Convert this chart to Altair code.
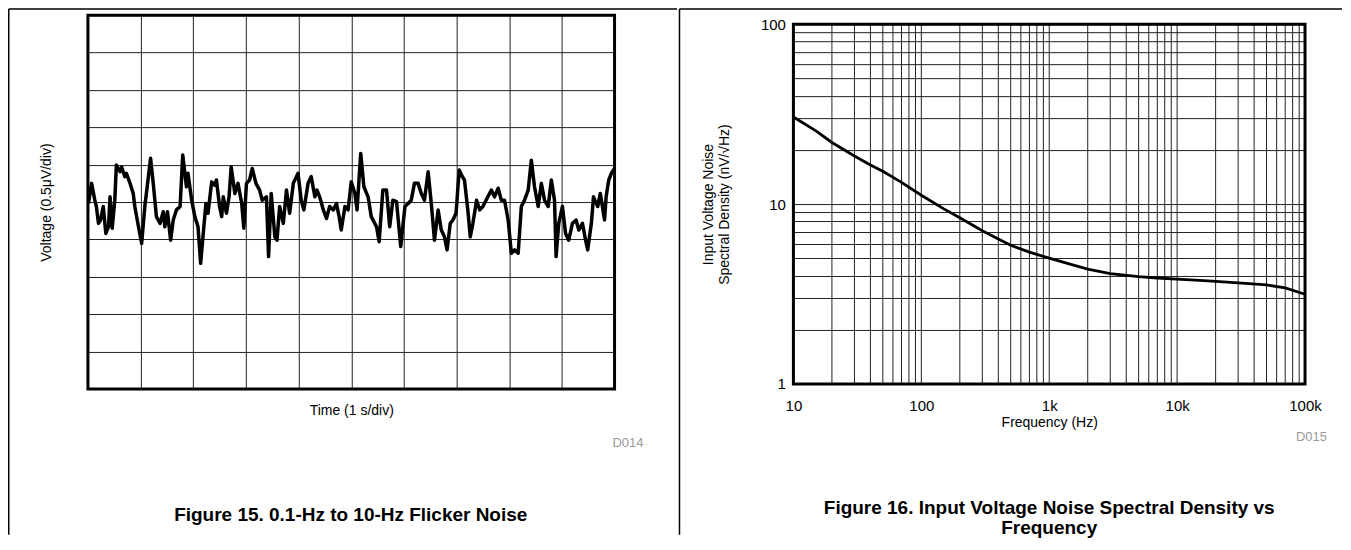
import altair as alt
import pandas as pd

FONT = "Liberation Sans"

# ---- Figure 15: 0.1-Hz to 10-Hz flicker noise (time in s, voltage in divisions) ----
time_s = [
    0.01, 0.07, 0.13, 0.16, 0.20, 0.24, 0.29, 0.34, 0.39, 0.42,
    0.46, 0.51, 0.54, 0.61, 0.64, 0.70, 0.73, 0.80, 0.86, 0.89,
    0.96, 1.02, 1.08, 1.19, 1.24, 1.30, 1.37, 1.43, 1.46, 1.51,
    1.57, 1.62, 1.68, 1.75, 1.80, 1.84, 1.87, 1.90, 1.97, 2.03,
    2.09, 2.14, 2.19, 2.24, 2.28, 2.35, 2.41, 2.44, 2.50, 2.54,
    2.57, 2.63, 2.68, 2.72, 2.79, 2.85, 2.92, 2.96, 3.01, 3.07,
    3.12, 3.19, 3.26, 3.31, 3.39, 3.43, 3.48, 3.55, 3.59, 3.64,
    3.71, 3.77, 3.83, 3.90, 3.99, 4.05, 4.10, 4.18, 4.24, 4.31,
    4.35, 4.40, 4.47, 4.53, 4.59, 4.66, 4.72, 4.77, 4.81, 4.88,
    4.94, 5.00, 5.07, 5.11,
    5.18, 5.24, 5.32, 5.38, 5.48, 5.53, 5.60, 5.67, 5.73, 5.79,
    5.86, 5.94, 6.02, 6.08, 6.14, 6.20, 6.27, 6.33, 6.39, 6.46,
    6.52, 6.58, 6.65, 6.71, 6.77, 6.82, 6.88, 6.93, 6.99, 7.05,
    7.11, 7.15, 7.22, 7.26, 7.31, 7.38, 7.44, 7.50, 7.56, 7.66,
    7.72, 7.79, 7.85, 7.91, 7.98, 8.04, 8.10, 8.17, 8.23, 8.29,
    8.36, 8.42, 8.48, 8.55, 8.61, 8.67, 8.74, 8.80, 8.86, 8.89,
    8.94, 9.01, 9.07, 9.13, 9.20, 9.27, 9.32, 9.39, 9.45, 9.49,
    9.56, 9.60, 9.68, 9.73, 9.81, 9.84, 9.89, 9.94, 10.0,
]
volt_div = [
    -0.04, 0.50, 0.05, -0.12, -0.57, -0.48, -0.12, -0.84, -0.66, 0.14,
    -0.70, 0.05, 0.99, 0.81, 0.94, 0.68, 0.77, 0.50, 0.23, -0.12,
    -0.66, -1.11, -0.12, 1.17, 0.50, -0.39, -0.57, -0.26, -0.66, -0.26,
    -1.02, -0.48, -0.21, -0.12, 1.26, 0.77, 0.41, 0.77, 0.05, -0.39,
    -0.66, -1.64, -0.84, -0.04, -0.30, 0.54, 0.45, 0.59, -0.12, -0.39,
    0.14, -0.30, 0.14, 0.94, 0.23, 0.50, -0.04, -0.70, 0.50, 0.59,
    0.90, 0.50, 0.32, 0.05, 0.14, -1.46, 0.23, -0.93, -1.02, -0.12,
    -0.57, 0.32, -0.30, 0.50, 0.77, 0.05, -0.21, 0.50, 0.68, 0.14,
    0.32, 0.14, -0.21, -0.44, -0.12, -0.21, -0.04, -0.39, -0.75, -0.12,
    -0.21, 0.54, 0.23, -0.21,
    1.30, 0.41, 0.14, -0.39, -0.66, -1.06, 0.32, 0.32, -0.66, 0.05,
    0.01, -1.19, -0.12, -0.04, 0.05, 0.50, 0.50, 0.23, 0.05, 0.81,
    -0.04, -1.02, -0.21, -0.75, -0.93, -1.28, -0.57, -0.48, -0.30, 0.86,
    0.68, 0.59, -0.30, -0.93, -0.57, 0.05, -0.21, -0.12, 0.05, 0.32,
    0.14, 0.37, 0.05, 0.05, -0.48, -1.37, -1.28, -1.37, -0.12, 0.05,
    0.32, 1.12, 0.41, -0.12, 0.50, 0.05, -0.12, 0.59, 0.05, -1.46,
    -0.57, -0.12, -0.84, -1.02, -0.57, -0.48, -0.75, -0.57, -1.02, -1.28,
    -0.57, 0.14, -0.12, 0.23, -0.48, 0.14, 0.59, 0.77, 0.90,
]

# ---- Figure 16: input voltage noise spectral density ----
freq_hz = [10, 15, 20, 30, 40, 50, 70, 100, 150, 200, 300, 400, 500, 700,
           1000, 1500, 2000, 3000, 5000, 7000, 10000, 15000, 20000, 30000,
           50000, 70000, 100000]
density_nv = [30.5, 25.5, 22.0, 18.5, 16.5, 15.2, 13.2, 11.2, 9.4, 8.4, 7.1, 6.4, 5.9, 5.4,
              5.0, 4.6, 4.35, 4.1, 3.95, 3.88, 3.82, 3.76, 3.72, 3.65,
              3.55, 3.42, 3.15]

x_major = [10, 100, 1000, 10000, 100000]
x_major_labels = ["10", "100", "1k", "10k", "100k"]
y_major = [1, 10, 100]
y_major_labels = ["1", "10", "100"]

grid_x = [m * d for d in [10, 100, 1000, 10000] for m in range(1, 10)] + [100000]
grid_y = [m * d for d in [1, 10] for m in range(1, 10)] + [100]


def label_expr(values, labels):
    expr = "''"
    for v, l in reversed(list(zip(values, labels))):
        expr = f"datum.value == {v} ? '{l}' : ({expr})"
    return expr


one = pd.DataFrame({"k": [0]})
W1, H1 = 527, 374          # left plot area
W2, H2 = 512, 369          # right group (plot frame from y=9 to 369)
R_TOP = 9
GRID_COLOR = "#222222"
grid_style = dict(grid=True, gridColor=GRID_COLOR, gridWidth=1, gridOpacity=1)
FRAME = dict(color="black", strokeWidth=1.5)
BOX = dict(filled=False, stroke="black", strokeWidth=3)
CAP = dict(font=FONT, fontSize=19, fontWeight="bold", align="center", baseline="middle", color="black")
TAG = dict(font=FONT, fontSize=13, color="#999999", align="right", baseline="middle")

# ---------------- left panel ----------------
left_line = alt.Chart(pd.DataFrame({"t": time_s, "v": volt_div})).mark_line(
    color="black", strokeWidth=3.5, strokeJoin="round"
).encode(
    x=alt.X("t:Q", scale=alt.Scale(domain=[0, 10], nice=False, zero=False),
            axis=alt.Axis(title="Time (1 s/div)", values=list(range(0, 11)), labels=False,
                          ticks=False, domain=False, titlePadding=15, **grid_style)),
    y=alt.Y("v:Q", scale=alt.Scale(domain=[-5, 5], nice=False, zero=False),
            axis=alt.Axis(title="Voltage (0.5\u03bcV/div)", values=list(range(-5, 6)), labels=False,
                          ticks=False, domain=False, titlePadding=34, **grid_style)),
)
box_l = alt.Chart(one).mark_rect(**BOX).encode(
    x=alt.value(0), x2=alt.value(W1), y=alt.value(0), y2=alt.value(H1))
top_rule_l = alt.Chart(one).mark_rule(**FRAME).encode(
    x=alt.value(-79.25), x2=alt.value(589.5), y=alt.value(-6.25))
left_rule = alt.Chart(one).mark_rule(**FRAME).encode(
    x=alt.value(-79.25), y=alt.value(-6.25), y2=alt.value(520))
cap_l = alt.Chart(one).mark_text(text="Figure 15. 0.1-Hz to 10-Hz Flicker Noise", **CAP).encode(
    x=alt.value(263), y=alt.value(500))
d014 = alt.Chart(one).mark_text(text="D014", **TAG).encode(x=alt.value(556), y=alt.value(428))

left = alt.layer(left_line, box_l, top_rule_l, left_rule, cap_l, d014).properties(width=W1, height=H1)

# ---------------- right panel ----------------
x_scale_r = alt.Scale(type="log", domain=[10, 100000], nice=False)
x_axis_r = alt.Axis(title="Frequency (Hz)", values=x_major,
                    labelExpr=label_expr(x_major, x_major_labels), grid=False,
                    ticks=False, domain=False, labelOverlap=False, labelFlush=False,
                    labelPadding=15, titlePadding=2)
vgrid_r = alt.Chart(pd.DataFrame({"g": grid_x})).mark_rule(color=GRID_COLOR, strokeWidth=1).encode(
    x=alt.X("g:Q", scale=x_scale_r, axis=x_axis_r),
    y=alt.value(R_TOP), y2=alt.value(H2))
right_line = alt.Chart(pd.DataFrame({"f": freq_hz, "n": density_nv})).mark_line(
    color="black", strokeWidth=2.8
).encode(
    x=alt.X("f:Q", scale=x_scale_r, axis=x_axis_r),
    y=alt.Y("n:Q", scale=alt.Scale(type="log", domain=[1, 100], range=[H2, R_TOP], nice=False),
            axis=alt.Axis(title=["Input Voltage Noise", "Spectral Density (nV/\u221aHz)"],
                          values=grid_y, labelExpr=label_expr(y_major, y_major_labels),
                          ticks=False, domain=False, labelOverlap=False, labelFlush=False,
                          labelPadding=8, titlePadding=29, titleY=(H2 + R_TOP) / 2,
                          **grid_style)),
)
box_r = alt.Chart(one).mark_rect(**BOX).encode(
    x=alt.value(0), x2=alt.value(W2), y=alt.value(R_TOP), y2=alt.value(H2))
top_rule_r = alt.Chart(one).mark_rule(**FRAME).encode(
    x=alt.value(-114), x2=alt.value(549), y=alt.value(-6.25))
divider = alt.Chart(one).mark_rule(**FRAME).encode(
    x=alt.value(-114), y=alt.value(-6.25), y2=alt.value(520))
cap_r1 = alt.Chart(one).mark_text(text="Figure 16. Input Voltage Noise Spectral Density vs", **CAP).encode(
    x=alt.value(256), y=alt.value(493))
cap_r2 = alt.Chart(one).mark_text(text="Frequency", **CAP).encode(
    x=alt.value(256), y=alt.value(513))
d015 = alt.Chart(one).mark_text(text="D015", **TAG).encode(x=alt.value(534), y=alt.value(422))

right = alt.layer(vgrid_r, right_line, box_r, top_rule_r, divider, cap_r1, cap_r2, d015).properties(
    width=W2, height=H2)

chart = alt.hconcat(left, right, spacing=0).properties(padding=0).configure_view(
    strokeWidth=0
).configure_axis(
    labelFont=FONT, titleFont=FONT, labelColor="black", titleColor="black",
    titleFontWeight="normal", titleFontSize=14, labelFontSize=15,
)

chart.save("out.html", embed_options={"renderer": "svg", "actions": False})
